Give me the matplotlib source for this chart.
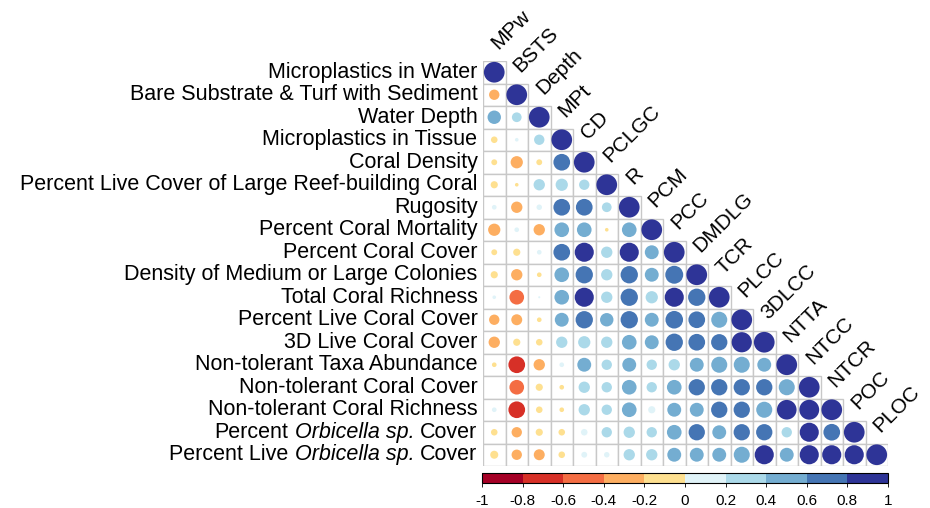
import numpy as np
import matplotlib
matplotlib.use("Agg")
import matplotlib.pyplot as plt
from matplotlib.patches import Circle, Rectangle
from matplotlib.colors import ListedColormap, BoundaryNorm
from matplotlib.transforms import offset_copy

plt.rcParams['font.family'] = ['Liberation Sans', 'DejaVu Sans']

# variable names; a label is a list of (text, italic) pieces
row_labels = [
    [("Microplastics in Water", False)],
    [("Bare Substrate & Turf with Sediment", False)],
    [("Water Depth", False)],
    [("Microplastics in Tissue", False)],
    [("Coral Density", False)],
    [("Percent Live Cover of Large Reef-building Coral", False)],
    [("Rugosity", False)],
    [("Percent Coral Mortality", False)],
    [("Percent Coral Cover", False)],
    [("Density of Medium or Large Colonies", False)],
    [("Total Coral Richness", False)],
    [("Percent Live Coral Cover", False)],
    [("3D Live Coral Cover", False)],
    [("Non-tolerant Taxa Abundance", False)],
    [("Non-tolerant Coral Cover", False)],
    [("Non-tolerant Coral Richness", False)],
    [("Percent", False), ("Orbicella sp.", True), ("Cover", False)],
    [("Percent Live", False), ("Orbicella sp.", True), ("Cover", False)],
]
col_labels = ["MPw", "BSTS", "Depth", "MPt", "CD", "PCLGC", "R", "PCM", "PCC",
              "DMDLG", "TCR", "PLCC", "3DLCC", "NTTA", "NTCC", "NTCR", "POC", "PLOC"]

# lower triangle correlations, one list per row (estimated from the figure)
r_MPw = [1]
r_BSTS = [-0.25, 1]
r_Depth = [0.42, 0.22, 1]
r_MPt = [-0.1, 0.03, 0.25, 1]
r_CD = [-0.08, -0.35, -0.08, 0.65, 1]
r_PCLGC = [-0.12, -0.03, 0.3, 0.35, 0.25, 1]
r_R = [0.05, -0.3, 0.07, 0.65, 0.65, 0.22, 1]
r_PCM = [-0.35, 0.05, -0.3, 0.5, 0.5, -0.03, 0.5, 1]
r_PCC = [-0.08, -0.12, 0.05, 0.65, 0.85, 0.3, 0.85, 0.45, 1]
r_DMDLG = [-0.12, -0.3, -0.05, 0.5, 0.7, 0.3, 0.7, 0.45, 0.75, 1]
r_TCR = [0.03, -0.5, 0.01, 0.5, 0.85, 0.3, 0.7, 0.35, 0.85, 0.7, 1]
r_PLCC = [-0.25, -0.28, -0.05, 0.45, 0.7, 0.42, 0.7, 0.45, 0.72, 0.65, 0.6, 1]
r_3DLCC = [-0.3, -0.12, -0.1, 0.3, 0.35, 0.3, 0.5, 0.45, 0.7, 0.65, 0.62, 0.95, 1]
r_NTTA = [-0.05, -0.65, -0.3, 0.05, 0.45, 0.25, 0.45, 0.25, 0.3, 0.45, 0.6, 0.6,
          0.45, 1]
r_NTCC = [0.0, -0.5, -0.12, -0.05, 0.3, 0.25, 0.5, 0.25, 0.5, 0.62, 0.62, 0.62,
          0.62, 0.6, 1]
r_NTCR = [0.05, -0.65, -0.1, -0.05, 0.3, 0.25, 0.5, 0.12, 0.45, 0.45, 0.62, 0.62,
          0.6, 0.9, 0.92, 1]
r_POC = [-0.1, -0.25, -0.12, -0.1, 0.1, 0.25, 0.3, 0.25, 0.5, 0.62, 0.45, 0.62,
         0.62, 0.25, 0.85, 0.65, 1]
r_PLOC = [-0.15, -0.25, -0.28, -0.1, 0.08, 0.07, 0.3, 0.3, 0.45, 0.45, 0.45, 0.6,
          0.85, 0.45, 0.85, 0.85, 0.85, 1]

rows = [r_MPw, r_BSTS, r_Depth, r_MPt, r_CD, r_PCLGC, r_R, r_PCM, r_PCC, r_DMDLG,
        r_TCR, r_PLCC, r_3DLCC, r_NTTA, r_NTCC, r_NTCR, r_POC, r_PLOC]

colors = ["#a50026", "#d73027", "#f46d43", "#fdae61", "#fee090",
          "#e0f3f8", "#abd9e9", "#74add1", "#4575b4", "#2e3497"]
bounds = np.linspace(-1, 1, 11)
cmap = ListedColormap(colors)
norm = BoundaryNorm(bounds, cmap.N)

n = len(rows)
fig = plt.figure(figsize=(9.3, 5.08), dpi=100)
ax = fig.add_axes([483 / 930, 42 / 508, 405 / 930, 405 / 508])
ax.set_xlim(0, n)
ax.set_ylim(n, 0)
ax.axis("off")

for i, vals in enumerate(rows):
    for j, v in enumerate(vals):
        ax.add_patch(Rectangle((j, i), 1, 1, facecolor="white", edgecolor="#c8c8c8",
                               linewidth=1.0, zorder=1))
        if abs(v) > 0:
            ax.add_patch(Circle((j + 0.5, i + 0.5), 0.46 * np.sqrt(abs(v)),
                                facecolor=cmap(norm(v)), edgecolor="none", zorder=2))

# row labels, built right to left so italic pieces sit inline
renderer = fig.canvas.get_renderer()
fs = 15.5
probe_a = fig.text(0, 0, "a a", fontsize=fs)
probe_b = fig.text(0, 0, "aa", fontsize=fs)
space_w = (probe_a.get_window_extent(renderer).width
           - probe_b.get_window_extent(renderer).width)
probe_a.remove()
probe_b.remove()

for i, pieces in enumerate(row_labels):
    shift = 0.0
    for txt, italic in reversed(pieces):
        tr = offset_copy(ax.transData, fig=fig, x=-shift, y=0, units="dots")
        t = ax.text(-0.25, i + 0.5, txt, ha="right", va="center", fontsize=fs,
                    style="italic" if italic else "normal", transform=tr)
        shift += t.get_window_extent(renderer).width + space_w

for j, lab in enumerate(col_labels):
    ax.text(j + 0.5, j - 0.65, lab, ha="left", va="center", rotation=45,
            rotation_mode="anchor", fontsize=15)

cax = fig.add_axes([482 / 930, 25 / 508, 406 / 930, 10 / 508])
sm = plt.cm.ScalarMappable(cmap=cmap, norm=norm)
cb = fig.colorbar(sm, cax=cax, orientation="horizontal", ticks=bounds)
cb.ax.set_xticklabels(["-1", "-0.8", "-0.6", "-0.4", "-0.2", "0", "0.2", "0.4",
                       "0.6", "0.8", "1"])
cb.ax.tick_params(labelsize=11, length=3, width=0.6, pad=5)
cb.outline.set_linewidth(0.8)

fig.savefig("out.png", dpi=100)
